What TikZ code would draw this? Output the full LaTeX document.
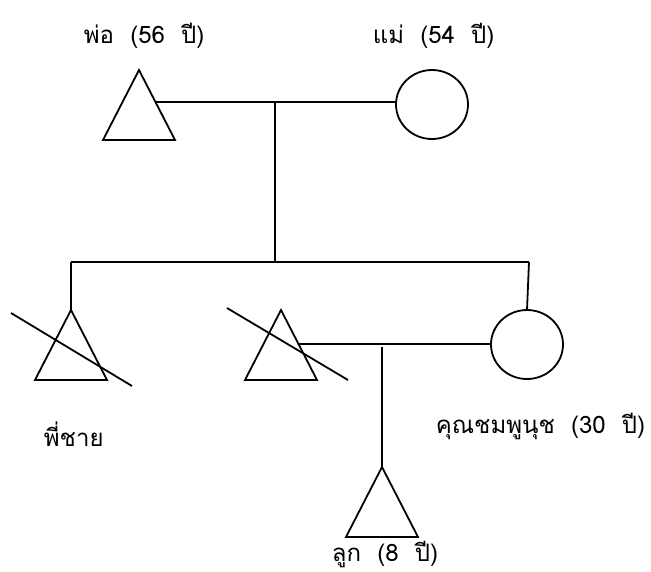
\documentclass[tikz,border=0pt]{standalone}
\usepackage{fontspec}
\newfontfamily\thaifont[Script=Thai,WordSpace=2.0]{Loma}
\usetikzlibrary{shapes.geometric,calc}
\begin{document}
\begin{tikzpicture}[x=1pt,y=-1pt,line width=1.8pt,
  male/.style={draw, isosceles triangle, isosceles triangle stretches,
    shape border rotate=90, minimum width=72pt, minimum height=70pt,
    inner sep=0pt, outer sep=0pt, anchor=apex},
  female/.style={draw, ellipse, minimum width=72pt, minimum height=69pt,
    inner sep=0pt, outer sep=0pt},
  lbl/.style={anchor=base west, inner sep=0pt,
    font=\thaifont\fontsize{24}{28}\selectfont}]
\useasboundingbox (0,0) rectangle (651,571);
% first generation
\node[male] (fa) at (139,70) {};
\node[female] (mo) at (432,104.5) {};
\coordinate (fm) at ($(fa.apex)!0.46!(fa.right corner)$);
\coordinate (sj) at (275,262);
\coordinate (sL) at (71,262);
\coordinate (sR) at (529,262);
\draw (fm) -- (fm -| mo.west);
\draw (fm -| sj) -- (sj);
\draw (sL) -- (sR);
% second generation
\node[male] (b1) at (71,310) {};
\node[male] (b2) at (281,310) {};
\node[female] (d) at (527,344.5) {};
\draw (sL) -- (b1.apex);
\draw (sR) -- (d.north);
\coordinate (bm) at ($(b2.apex)!0.486!(b2.right corner)$);
\draw (bm) -- (bm -| d.west);
\draw (11,313) -- (132,386);
\draw (227,308) -- (348,380);
% third generation
\node[male] (ch) at (382,467) {};
\coordinate (cj) at ($(bm -| ch.apex)+(0,3)$);
\draw (cj) -- (ch.apex);
% labels
\node[lbl] (lfa) at (83,43) {พ่อ (56 ปี)};
\node[lbl] (lmo) at (372,43) {แม่ (54 ปี)};
\node[lbl] (lb1) at (43,446) {พี่ชาย};
\node[lbl,anchor=base east] (ld) at (646,433) {คุณชมพูนุช (30 ปี)};
\node[lbl] (lch) at (331,561) {ลูก (8 ปี)};
\end{tikzpicture}
\end{document}
